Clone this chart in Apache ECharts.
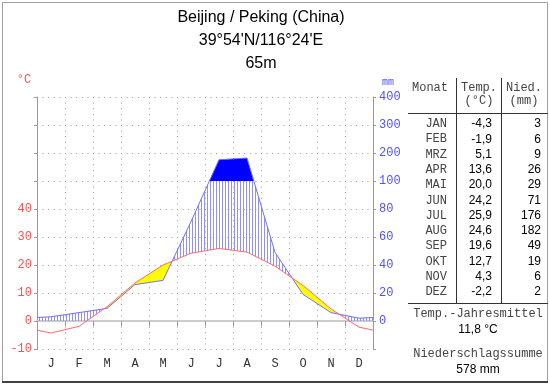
<!DOCTYPE html>
<html><head><meta charset="utf-8">
<script src="https://cdn.jsdelivr.net/npm/echarts@6/dist/echarts.min.js"></script>
<style>html,body{margin:0;padding:0;background:#fff}#c{width:550px;height:384px}</style>
</head><body><div id="c"></div>
<script>
// ---- data ----
const months = ['J','F','M','A','M','J','J','A','S','O','N','D'];
const monthNames = ['JAN','FEB','MRZ','APR','MAI','JUN','JUL','AUG','SEP','OKT','NOV','DEZ'];
const temps = [-4.3,-1.9,5.1,13.6,20.0,24.2,25.9,24.6,19.6,12.7,4.3,-2.2];
const precip = [3,6,9,26,29,71,176,182,49,19,6,2];
const tempTickLabels = [-10,0,10,20,30,40];
const precipTickLabels = [0,20,40,60,80,100,200,300,400];
const titleLines = ['Beijing / Peking (China)', "39°54'N/116°24'E", '65m'];

// ---- helpers ----
const MONO = 'Liberation Mono';
const SANS = 'Liberation Sans';
function scaleP(p){ return p <= 100 ? p/2 : 50 + (p-100)/10; }
function fmt1(v){ return v.toFixed(1).replace('.', ','); }

const edgeT = (temps[11] + temps[0]) / 2;
const edgeP = scaleP((precip[11] + precip[0]) / 2);
const xs = [0].concat(temps.map((_, i) => i + 0.5), [12]);
const T = [edgeT].concat(temps, [edgeT]);
const P = [edgeP].concat(precip.map(scaleP), [edgeP]);

const meanT = temps.reduce((a,b)=>a+b,0)/12;
const sumP = precip.reduce((a,b)=>a+b,0);

// hatch pattern
const pc = document.createElement('canvas');
pc.width = 3; pc.height = 4;
const pctx = pc.getContext('2d');
pctx.fillStyle = '#8f8fff';
pctx.fillRect(0,0,1,4);

function renderFills(params, api){
  if (params.dataIndex !== 0) return;
  const pts = [];
  for (let i = 0; i < xs.length - 1; i++) {
    const ss = [0];
    const cross = (a0, a1) => { if (a0*a1 < 0) ss.push(a0/(a0-a1)); };
    cross(P[i]-T[i], P[i+1]-T[i+1]);
    cross(P[i]-50, P[i+1]-50);
    cross(T[i], T[i+1]);
    ss.sort((a,b)=>a-b);
    ss.forEach(s => pts.push({
      x: xs[i] + s*(xs[i+1]-xs[i]),
      t: T[i] + s*(T[i+1]-T[i]),
      p: P[i] + s*(P[i+1]-P[i])
    }));
  }
  const n = xs.length - 1;
  pts.push({x: xs[n], t: T[n], p: P[n]});

  const children = [];
  function runs(testFn, topFn, botFn, fill){
    let cur = null;
    const flush = run => {
      const poly = run.map(q => api.coord([q.x, topFn(q)]));
      for (let j = run.length-1; j >= 0; j--) poly.push(api.coord([run[j].x, botFn(run[j])]));
      children.push({type:'polygon', shape:{points: poly}, style:{fill: fill, stroke: null}});
    };
    for (let k = 0; k < pts.length - 1; k++) {
      const a = pts[k], b = pts[k+1];
      const mid = {t:(a.t+b.t)/2, p:(a.p+b.p)/2};
      if (testFn(mid)) {
        if (!cur) cur = [a];
        cur.push(b);
      } else if (cur) { flush(cur); cur = null; }
    }
    if (cur) flush(cur);
  }
  // humid: hatched between max(T,0) and min(P,50)
  runs(m => m.p > m.t, q => Math.min(q.p, 50), q => Math.max(q.t, 0), {image: pc, repeat: 'repeat'});
  // arid: yellow between T and P
  runs(m => m.t > m.p, q => q.t, q => q.p, '#ffff00');
  // perhumid: solid blue above 100 mm
  runs(m => m.p > 50, q => q.p, q => 50, '#0000ff');
  return {type:'group', children: children};
}

// ---- graphics: title, table, frame ----
const graphics = [];
graphics.push({type:'rect', shape:{x:2.5, y:2.5, width:545, height:379}, style:{fill:null, stroke:'#a0a0a0', lineWidth:1}, silent:true});
graphics.push({type:'line', shape:{x1:2, y1:382, x2:548, y2:382}, style:{stroke:'#404040', lineWidth:2}, silent:true});
titleLines.forEach((t, i) => graphics.push({type:'text', x:261, y:18 + i*23,
  style:{text:t, font:'16px "' + SANS + '"', fill:'#000', align:'center', verticalAlign:'middle'}}));
graphics.push({type:'text', x:24, y:80, style:{text:'°C', font:'12px "' + MONO + '"', fill:'#ff5050', align:'center', verticalAlign:'middle'}});
graphics.push({type:'text', x:388, y:82, style:{text:'mm', font:'10px "' + MONO + '"', fill:'#5050ff', align:'center', verticalAlign:'middle'}});

const monoStyle = (text, x, y, align) => ({type:'text', x, y, style:{text, font:'12px "' + MONO + '"', fill:'#444', align, verticalAlign:'middle'}});
const sansStyle = (text, x, y, align) => ({type:'text', x, y, style:{text, font:'12px "' + SANS + '"', fill:'#000', align, verticalAlign:'middle'}});
graphics.push(monoStyle('Monat', 412, 88, 'left'));
graphics.push(monoStyle('Temp.', 479, 88, 'center'));
graphics.push(monoStyle('(°C)', 479, 101, 'center'));
graphics.push(monoStyle('Nied.', 524, 88, 'center'));
graphics.push(monoStyle('(mm)', 524, 101, 'center'));
const rowH = (292 - 124) / 11;
monthNames.forEach((m, i) => {
  const y = 124 + i*rowH;
  graphics.push(monoStyle(m, 447, y, 'right'));
  graphics.push(sansStyle(fmt1(temps[i]), 492, y, 'right'));
  graphics.push(sansStyle(String(precip[i]), 541, y, 'right'));
});
graphics.push({type:'line', shape:{x1:456.5, y1:78, x2:456.5, y2:303}, style:{stroke:'#333', lineWidth:1}});
graphics.push({type:'line', shape:{x1:501.5, y1:78, x2:501.5, y2:303}, style:{stroke:'#333', lineWidth:1}});
graphics.push({type:'line', shape:{x1:408, y1:113.5, x2:548, y2:113.5}, style:{stroke:'#333', lineWidth:1}});
graphics.push({type:'line', shape:{x1:408, y1:303.5, x2:548, y2:303.5}, style:{stroke:'#333', lineWidth:1}});
graphics.push(monoStyle('Temp.-Jahresmittel', 478, 314, 'center'));
graphics.push(sansStyle(fmt1(meanT) + ' °C', 478, 330, 'center'));
graphics.push(monoStyle('Niederschlagssumme', 478, 354, 'center'));
graphics.push(sansStyle(sumP + ' mm', 478, 370, 'center'));

const dotted = {color:'#999', type:[1,4.6], width:1};

const option = {
  animation: false,
  backgroundColor: '#fff',
  grid: {left:37, right:177, top:97, bottom:35, outerBoundsMode:'none', containLabel:false},
  xAxis: [
    {type:'value', min:0, max:12, interval:1, axisLine:{show:false}, axisTick:{show:false},
     axisLabel:{show:false}, splitLine:{show:true, lineStyle:dotted}},
    {type:'category', data: months, position:'bottom', boundaryGap:true,
     axisLine:{show:true, onZero:true, lineStyle:{color:'#cccccc', width:2}},
     axisTick:{show:true, length:5, lineStyle:{color:'#999'}},
     axisLabel:{margin:9, fontFamily:MONO, fontSize:12, color:'#333'},
     splitLine:{show:false}}
  ],
  yAxis: [
    {type:'value', min:-10, max:80, interval:10, position:'left',
     axisLine:{show:true, lineStyle:{color:'#999'}},
     axisTick:{show:true, length:3, lineStyle:{color:'#999'}},
     axisLabel:{margin:5, fontFamily:MONO, fontSize:12, color:'#ff5050',
       formatter: v => tempTickLabels.indexOf(v) >= 0 ? String(v) : ''},
     splitLine:{show:true, lineStyle:dotted}},
    {type:'value', min:-10, max:80, interval:10, position:'right',
     axisLine:{show:true, lineStyle:{color:'#999'}},
     axisTick:{show:true, length:3, lineStyle:{color:'#999'}},
     axisLabel:{margin:6, fontFamily:MONO, fontSize:12, color:'#5050ff',
       formatter: v => v >= 0 ? String(precipTickLabels[Math.round(v/10)]) : ''},
     splitLine:{show:false}}
  ],
  series: [
    {type:'custom', xAxisIndex:0, yAxisIndex:0, data:[[0,0]], renderItem: renderFills, z:1, silent:true},
    {type:'line', xAxisIndex:0, yAxisIndex:0, data: xs.map((x,i)=>[x, P[i]]), symbol:'none',
     lineStyle:{color:'#7070ff', width:1}, z:3, silent:true},
    {type:'line', xAxisIndex:0, yAxisIndex:0, data: xs.map((x,i)=>[x, T[i]]), symbol:'none',
     lineStyle:{color:'#ff6a6a', width:1}, z:4, silent:true}
  ],
  graphic: graphics
};
const chart = echarts.init(document.getElementById('c'), null, {renderer:'canvas'});
chart.setOption(option);
</script></body></html>
